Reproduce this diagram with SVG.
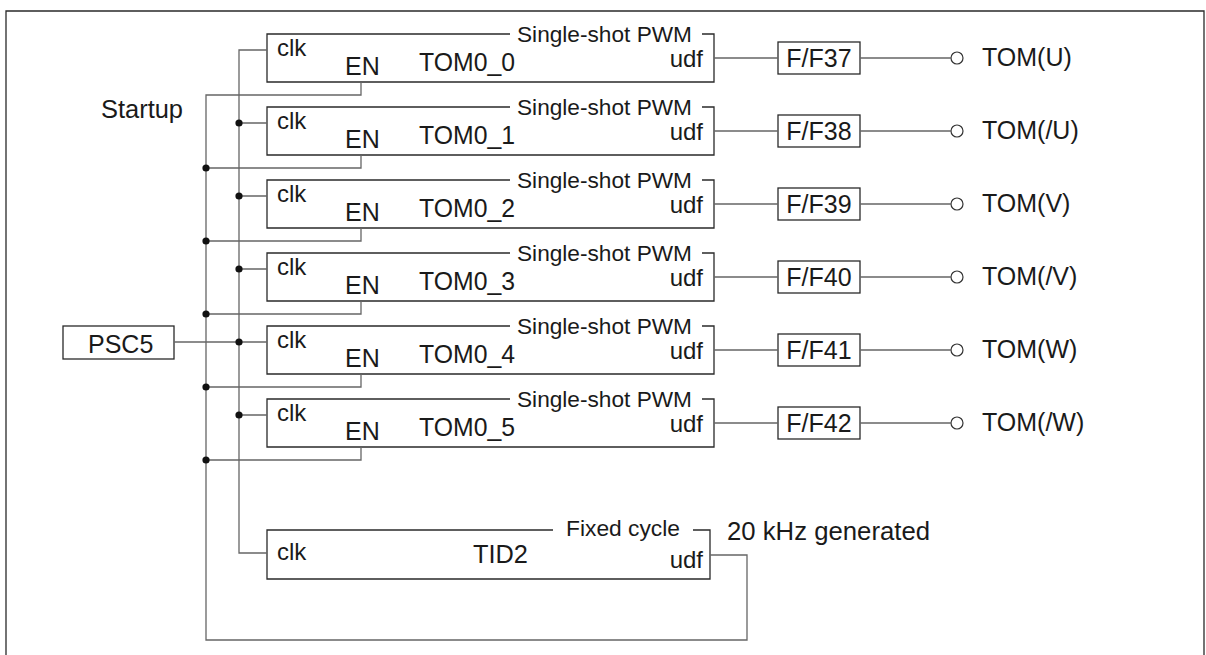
<svg xmlns="http://www.w3.org/2000/svg" width="1206" height="655" viewBox="0 0 1206 655">
<style>
text{font-family:"Liberation Sans",Arial,sans-serif;fill:#1a1a1a}
.m{font-size:25px}
.c{font-size:24px}
.s{font-size:22px}
.u{font-size:24px;text-anchor:end}
.box{fill:none;stroke:#2a2a2a;stroke-width:1.3}
.w{fill:none;stroke:#666;stroke-width:1.3}
.dot{fill:#111}
.pin{fill:#fff;stroke:#333;stroke-width:1.2}
</style>
<rect x="0" y="0" width="1206" height="655" fill="#fff"/>
<path class="box" d="M6,660 V11 H1204 V660"/>
<text class="m" x="101" y="118" textLength="82" lengthAdjust="spacingAndGlyphs">Startup</text>

<g id="psc5">
<rect class="box" x="63" y="326" width="111" height="33"/>
<text class="m" x="88" y="353">PSC5</text>
</g>

<g id="tom0_0">
<path class="box" d="M510,34 H267 V82 H714 V34 H702"/>
<text class="s" x="517" y="42" textLength="175" lengthAdjust="spacingAndGlyphs">Single-shot PWM</text>
<text class="c" x="277" y="56">clk</text>
<text class="m" x="345" y="75">EN</text>
<text class="m" x="419" y="71" textLength="96" lengthAdjust="spacingAndGlyphs">TOM0_0</text>
<text class="u" x="703" y="67">udf</text>
</g>
<g id="tom0_1">
<path class="box" d="M510,107 H267 V155 H714 V107 H702"/>
<text class="s" x="517" y="115" textLength="175" lengthAdjust="spacingAndGlyphs">Single-shot PWM</text>
<text class="c" x="277" y="129">clk</text>
<text class="m" x="345" y="148">EN</text>
<text class="m" x="419" y="144" textLength="96" lengthAdjust="spacingAndGlyphs">TOM0_1</text>
<text class="u" x="703" y="140">udf</text>
</g>
<g id="tom0_2">
<path class="box" d="M510,180 H267 V228 H714 V180 H702"/>
<text class="s" x="517" y="188" textLength="175" lengthAdjust="spacingAndGlyphs">Single-shot PWM</text>
<text class="c" x="277" y="202">clk</text>
<text class="m" x="345" y="221">EN</text>
<text class="m" x="419" y="217" textLength="96" lengthAdjust="spacingAndGlyphs">TOM0_2</text>
<text class="u" x="703" y="213">udf</text>
</g>
<g id="tom0_3">
<path class="box" d="M510,253 H267 V301 H714 V253 H702"/>
<text class="s" x="517" y="261" textLength="175" lengthAdjust="spacingAndGlyphs">Single-shot PWM</text>
<text class="c" x="277" y="275">clk</text>
<text class="m" x="345" y="294">EN</text>
<text class="m" x="419" y="290" textLength="96" lengthAdjust="spacingAndGlyphs">TOM0_3</text>
<text class="u" x="703" y="286">udf</text>
</g>
<g id="tom0_4">
<path class="box" d="M510,326 H267 V374 H714 V326 H702"/>
<text class="s" x="517" y="334" textLength="175" lengthAdjust="spacingAndGlyphs">Single-shot PWM</text>
<text class="c" x="277" y="348">clk</text>
<text class="m" x="345" y="367">EN</text>
<text class="m" x="419" y="363" textLength="96" lengthAdjust="spacingAndGlyphs">TOM0_4</text>
<text class="u" x="703" y="359">udf</text>
</g>
<g id="tom0_5">
<path class="box" d="M510,399 H267 V447 H714 V399 H702"/>
<text class="s" x="517" y="407" textLength="175" lengthAdjust="spacingAndGlyphs">Single-shot PWM</text>
<text class="c" x="277" y="421">clk</text>
<text class="m" x="345" y="440">EN</text>
<text class="m" x="419" y="436" textLength="96" lengthAdjust="spacingAndGlyphs">TOM0_5</text>
<text class="u" x="703" y="432">udf</text>
</g>

<g id="tid2">
<path class="box" d="M553,530 H267 V579 H710 V530 H693"/>
<text class="s" x="566" y="536" textLength="114" lengthAdjust="spacingAndGlyphs">Fixed cycle</text>
<text class="c" x="277" y="560">clk</text>
<text class="m" x="473" y="563" textLength="55" lengthAdjust="spacingAndGlyphs">TID2</text>
<text class="u" x="703" y="568">udf</text>
</g>
<text class="m" x="727" y="540" textLength="203" lengthAdjust="spacingAndGlyphs">20 kHz generated</text>

<g id="ff37"><rect class="box" x="778" y="42" width="82" height="32"/><text class="m" x="819" y="67" text-anchor="middle">F/F37</text></g>
<g id="ff38"><rect class="box" x="778" y="115" width="82" height="32"/><text class="m" x="819" y="140" text-anchor="middle">F/F38</text></g>
<g id="ff39"><rect class="box" x="778" y="188" width="82" height="32"/><text class="m" x="819" y="213" text-anchor="middle">F/F39</text></g>
<g id="ff40"><rect class="box" x="778" y="261" width="82" height="32"/><text class="m" x="819" y="286" text-anchor="middle">F/F40</text></g>
<g id="ff41"><rect class="box" x="778" y="334" width="82" height="32"/><text class="m" x="819" y="359" text-anchor="middle">F/F41</text></g>
<g id="ff42"><rect class="box" x="778" y="407" width="82" height="32"/><text class="m" x="819" y="432" text-anchor="middle">F/F42</text></g>

<g id="out_u"><circle class="pin" cx="957" cy="58" r="6"/><text class="m" x="982" y="66">TOM(U)</text></g>
<g id="out_nu"><circle class="pin" cx="957" cy="131" r="6"/><text class="m" x="982" y="139">TOM(/U)</text></g>
<g id="out_v"><circle class="pin" cx="957" cy="204" r="6"/><text class="m" x="982" y="212">TOM(V)</text></g>
<g id="out_nv"><circle class="pin" cx="957" cy="277" r="6"/><text class="m" x="982" y="285">TOM(/V)</text></g>
<g id="out_w"><circle class="pin" cx="957" cy="350" r="6"/><text class="m" x="982" y="358">TOM(W)</text></g>
<g id="out_nw"><circle class="pin" cx="957" cy="423" r="6"/><text class="m" x="982" y="431">TOM(/W)</text></g>

<g id="connectors">
<path class="w" d="M174,342 H267"/>
<path class="w" d="M267,50 H239 V553 H267"/>
<path class="w" d="M239,123 H267 M239,196 H267 M239,269 H267 M239,415 H267"/>
<path class="w" d="M361,82 V95 H206 V640 H747 V555 H710"/>
<path class="w" d="M361,155 V168 H206 M361,228 V241 H206 M361,301 V314 H206 M361,374 V387 H206 M361,447 V460 H206"/>
<path class="w" d="M714,58 H778 M860,58 H951 M714,131 H778 M860,131 H951 M714,204 H778 M860,204 H951 M714,277 H778 M860,277 H951 M714,350 H778 M860,350 H951 M714,423 H778 M860,423 H951"/>
<circle class="dot" cx="239" cy="123" r="3.6"/>
<circle class="dot" cx="239" cy="196" r="3.6"/>
<circle class="dot" cx="239" cy="269" r="3.6"/>
<circle class="dot" cx="239" cy="342" r="3.6"/>
<circle class="dot" cx="239" cy="415" r="3.6"/>
<circle class="dot" cx="206" cy="168" r="3.6"/>
<circle class="dot" cx="206" cy="241" r="3.6"/>
<circle class="dot" cx="206" cy="314" r="3.6"/>
<circle class="dot" cx="206" cy="387" r="3.6"/>
<circle class="dot" cx="206" cy="460" r="3.6"/>
</g>
</svg>
